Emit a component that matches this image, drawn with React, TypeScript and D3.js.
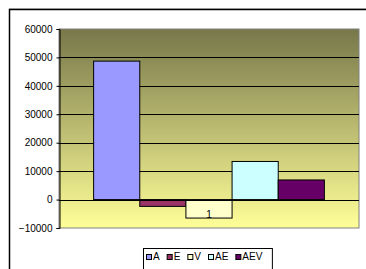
import React, { useEffect, useRef } from "react";
import * as d3 from "d3";

const categories = ["1"];
const seriesNames = ["A", "E", "V", "AE", "AEV"];
const seriesValues = [48700, -2400, -6500, 13400, 6900];
const seriesColors = ["#9999ff", "#993366", "#ffffcc", "#ccffff", "#660066"];
const yTicks = [-10000, 0, 10000, 20000, 30000, 40000, 50000, 60000];

export default function App() {
  const ref = useRef<SVGSVGElement>(null);

  useEffect(() => {
    if (!ref.current) return;
    const svg = d3.select(ref.current);
    svg.selectAll("*").remove();

    const W = 366;
    const H = 269;
    const plot = { left: 59, top: 29, right: 359, bottom: 228 };

    // outer chart frame
    svg.append("rect").attr("width", W).attr("height", H).attr("fill", "#fff");
    svg
      .append("line")
      .attr("x1", 9).attr("x2", W).attr("y1", 8.5).attr("y2", 8.5)
      .attr("stroke", "#c8c8c8");
    svg
      .append("path")
      .attr("d", `M9.5,${H} V9.5 H${W}`)
      .attr("fill", "none")
      .attr("stroke", "#000")
      .attr("stroke-width", 1.5);

    const defs = svg.append("defs");
    const grad = defs
      .append("linearGradient")
      .attr("id", "plot-bg")
      .attr("x1", "0%").attr("y1", "0%").attr("x2", "0%").attr("y2", "100%");
    grad.append("stop").attr("offset", "0%").attr("stop-color", "#77774a");
    grad.append("stop").attr("offset", "100%").attr("stop-color", "#ffff99");

    const y = d3.scaleLinear().domain([-10000, 60000]).range([plot.bottom, plot.top]);
    const x0 = d3
      .scaleBand()
      .domain(categories)
      .range([plot.left, plot.right])
      .paddingInner(0)
      .paddingOuter(0.15);
    const x1 = d3.scaleBand().domain(seriesNames).range([0, x0.bandwidth()]);

    // plot area
    svg
      .append("rect")
      .attr("x", plot.left)
      .attr("y", plot.top)
      .attr("width", plot.right - plot.left)
      .attr("height", plot.bottom - plot.top)
      .attr("fill", "url(#plot-bg)")
      .attr("stroke", "#808080")
      .attr("stroke-width", 1);

    // gridlines
    svg
      .append("g")
      .selectAll("line")
      .data(yTicks.filter((t) => t > -10000 && t < 60000))
      .join("line")
      .attr("x1", plot.left)
      .attr("x2", plot.right)
      .attr("y1", (d) => Math.round(y(d)) + 0.5)
      .attr("y2", (d) => Math.round(y(d)) + 0.5)
      .attr("stroke", "#000")
      .attr("stroke-width", 1);

    // bars
    const g = svg.append("g");
    categories.forEach((c) => {
      g.selectAll(`rect.c${c}`)
        .data(seriesValues)
        .join("rect")
        .attr("x", (_, i) => (x0(c) as number) + (x1(seriesNames[i]) as number))
        .attr("y", (d) => y(Math.max(0, d)))
        .attr("width", x1.bandwidth())
        .attr("height", (d) => Math.abs(y(d) - y(0)))
        .attr("fill", (_, i) => seriesColors[i])
        .attr("stroke", "#000")
        .attr("stroke-width", 1);
    });

    // zero axis line
    svg
      .append("line")
      .attr("x1", plot.left).attr("x2", plot.right)
      .attr("y1", Math.round(y(0)) + 0.5).attr("y2", Math.round(y(0)) + 0.5)
      .attr("stroke", "#000");

    // category label
    svg
      .append("g")
      .selectAll("text")
      .data(categories)
      .join("text")
      .attr("x", (d) => (x0(d) as number) + x0.bandwidth() / 2)
      .attr("y", Math.round(y(0)) + 18)
      .attr("text-anchor", "middle")
      .attr("font-family", "Liberation Sans, Arial, sans-serif")
      .attr("font-size", 10)
      .attr("fill", "#000")
      .text((d) => d);

    // y axis
    const axis = svg
      .append("g")
      .attr("transform", `translate(${plot.left + 0.5},0)`)
      .call(d3.axisLeft(y).tickValues(yTicks).tickSize(3).tickPadding(4).tickFormat(d3.format("d")));
    axis.select(".domain").attr("stroke", "#000");
    axis.selectAll("line").attr("stroke", "#000");
    axis
      .selectAll("text")
      .attr("font-family", "Liberation Sans, Arial, sans-serif")
      .attr("font-size", 10)
      .attr("fill", "#000");

    // legend
    const lg = svg.append("g");
    const box = lg
      .append("rect")
      .attr("x", 143.5)
      .attr("y", 248.5)
      .attr("height", 30)
      .attr("fill", "#fff")
      .attr("stroke", "#000");
    let cx = 146;
    seriesNames.forEach((name, i) => {
      lg.append("rect")
        .attr("x", cx + 0.5)
        .attr("y", 254.5)
        .attr("width", 5)
        .attr("height", 5)
        .attr("fill", seriesColors[i])
        .attr("stroke", "#000");
      const t = lg
        .append("text")
        .attr("x", cx + 7)
        .attr("y", 260)
        .attr("font-family", "Liberation Sans, Arial, sans-serif")
        .attr("font-size", 10)
        .attr("fill", "#000")
        .text(name);
      const w = (t.node() as SVGTextElement).getComputedTextLength();
      cx += 7 + w + 7;
    });
    box.attr("width", cx - 7 + 10 - 143.5);
  }, []);

  return (
    <svg
      ref={ref}
      width={366}
      height={269}
      style={{ position: "absolute", left: 0, top: 0 }}
    />
  );
}
